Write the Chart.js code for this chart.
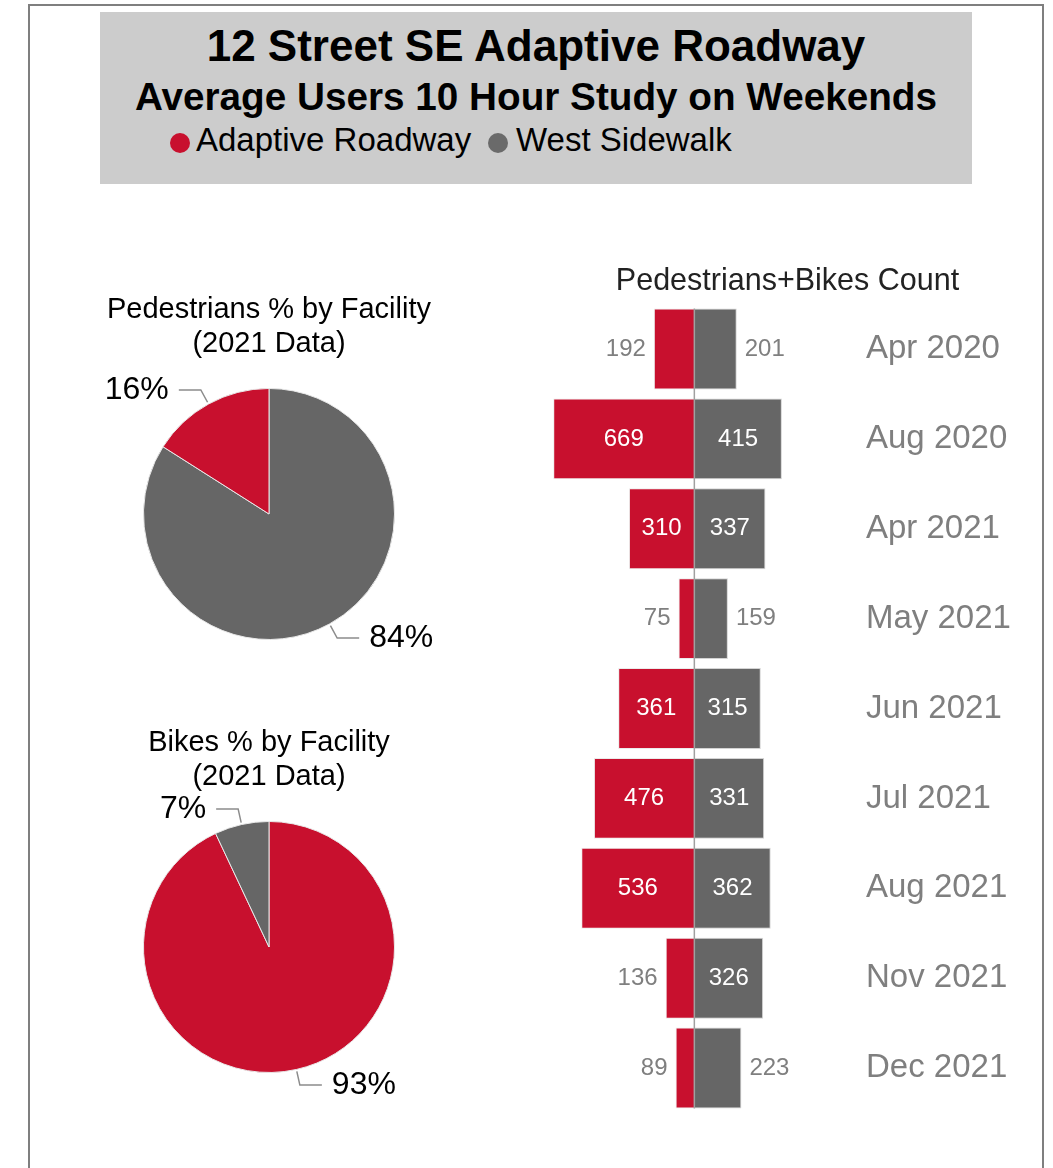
<!DOCTYPE html>
<html>
<head>
<meta charset="utf-8">
<title>12 Street SE Adaptive Roadway</title>
<script src="https://cdn.jsdelivr.net/npm/chart.js@4.4.1/dist/chart.umd.min.js"></script>
<style>
  body { margin: 0; background: #fff; font-family: "Liberation Sans", Arial, sans-serif; }
  #page { position: relative; width: 1053px; height: 1168px; overflow: hidden; }
  #frame { position: absolute; left: 28px; top: 4px; width: 1016px; height: 1220px;
           border: 2px solid #7f7f7f; box-sizing: border-box; }
  #header { position: absolute; left: 100px; top: 12px; width: 872px; height: 172px; background: #cccccc; }
  .hl { position: absolute; left: 0; width: 100%; text-align: center; font-weight: bold;
        color: #000; white-space: nowrap; height: 50px; line-height: 50px; }
  #t1 { top: 9px; font-size: 44px; }
  #t2 { top: 60px; font-size: 38.7px; }
  .dot { position: absolute; top: 121px; width: 20px; height: 20px; border-radius: 50%; }
  .lt { position: absolute; top: 108px; height: 40px; line-height: 40px; font-size: 33px;
        color: #000; white-space: nowrap; }
  canvas { position: absolute; }
</style>
</head>
<body>
<div id="page">
  <div id="frame"></div>
  <div id="header">
    <div class="hl" id="t1">12 Street SE Adaptive Roadway</div>
    <div class="hl" id="t2">Average Users 10 Hour Study on Weekends</div>
    <div class="dot" style="left:70px;background:#c8102e"></div>
    <div class="lt" style="left:96px">Adaptive Roadway</div>
    <div class="dot" style="left:388px;background:#6a6a6a"></div>
    <div class="lt" style="left:416px">West Sidewalk</div>
  </div>
  <canvas id="pedPie" width="420" height="400" style="left:59px;top:280px"></canvas>
  <canvas id="bikePie" width="420" height="400" style="left:59px;top:713px"></canvas>
  <canvas id="countBar" width="482" height="858" style="left:540px;top:255px"></canvas>
</div>
<script>
const FONT = '"Liberation Sans", Arial, sans-serif';
const red = '#c8102e';
const gray = '#666666';

// values
const facilities = ['Adaptive Roadway', 'West Sidewalk'];
const pedestrianShare = [16, 84];
const bikeShare = [93, 7];

const months = ['Apr 2020', 'Aug 2020', 'Apr 2021', 'May 2021', 'Jun 2021',
                'Jul 2021', 'Aug 2021', 'Nov 2021', 'Dec 2021'];
const roadwayCounts  = [192, 669, 310, 75, 361, 476, 536, 136, 89];
const sidewalkCounts = [201, 415, 337, 159, 315, 331, 362, 326, 223];

// percentage call-outs with leader lines
const pieCallouts = {
  id: 'pieCallouts',
  afterDatasetsDraw(chart) {
    const ctx = chart.ctx;
    const meta = chart.getDatasetMeta(0);
    const values = chart.data.datasets[0].data;
    ctx.save();
    ctx.font = '32px ' + FONT;
    ctx.fillStyle = '#000';
    ctx.strokeStyle = '#8c8c8c';
    ctx.lineWidth = 1.5;
    ctx.textBaseline = 'middle';
    meta.data.forEach((arc, i) => {
      const mid = (arc.startAngle + arc.endAngle) / 2;
      const dx = Math.cos(mid), dy = Math.sin(mid);
      const r = arc.outerRadius;
      const side = dx >= 0 ? 1 : -1;
      const x0 = arc.x + dx * (r + 2), y0 = arc.y + dy * (r + 2);
      const x1 = arc.x + dx * (r + 16), y1 = arc.y + dy * (r + 16);
      const x2 = x1 + side * 22;
      ctx.beginPath();
      ctx.moveTo(x0, y0);
      ctx.lineTo(x1, y1);
      ctx.lineTo(x2, y1);
      ctx.stroke();
      ctx.textAlign = side > 0 ? 'left' : 'right';
      ctx.fillText(values[i] + '%', x2 + side * 10, y1);
    });
    ctx.restore();
  }
};

function pieChart(id, labels, values, colors, title) {
  return new Chart(document.getElementById(id), {
    type: 'pie',
    data: {
      labels: labels,
      datasets: [{
        data: values,
        backgroundColor: colors,
        borderColor: '#e8e8e8',
        borderWidth: 1
      }]
    },
    options: {
      responsive: false,
      animation: false,
      layout: { padding: { left: 0, right: 0, top: 0, bottom: 40 } },
      plugins: {
        legend: { display: false },
        tooltip: { enabled: false },
        title: {
          display: true,
          text: title,
          color: '#000',
          font: { family: FONT, size: 29, weight: 'normal', lineHeight: 1.16 },
          padding: { top: 13.6, bottom: 27.1 }
        }
      }
    },
    plugins: [pieCallouts]
  });
}

// pedestrians: sidewalk slice starts at 12 o'clock
pieChart('pedPie', [facilities[1], facilities[0]],
  [pedestrianShare[1], pedestrianShare[0]], [gray, red],
  ['Pedestrians % by Facility', '(2021 Data)']);

pieChart('bikePie', facilities, bikeShare, [red, gray],
  ['Bikes % by Facility', '(2021 Data)']);

// value labels: inside when they fit, otherwise at the outer end
const barValues = {
  id: 'barValues',
  afterDatasetsDraw(chart) {
    const ctx = chart.ctx;
    const sets = [roadwayCounts, sidewalkCounts];
    ctx.save();
    ctx.font = '24px ' + FONT;
    ctx.textBaseline = 'middle';
    sets.forEach((counts, di) => {
      chart.getDatasetMeta(di).data.forEach((bar, i) => {
        const text = String(counts[i]);
        const w = Math.abs(bar.x - bar.base);
        const tw = ctx.measureText(text).width;
        const dir = bar.x < bar.base ? -1 : 1;
        if (w >= tw + 20) {
          ctx.fillStyle = '#fff';
          ctx.textAlign = 'center';
          ctx.fillText(text, (bar.x + bar.base) / 2, bar.y);
        } else {
          ctx.fillStyle = '#7f7f7f';
          ctx.textAlign = dir < 0 ? 'right' : 'left';
          ctx.fillText(text, bar.x + dir * 8, bar.y);
        }
      });
    });
    ctx.restore();
  }
};

const zeroLine = {
  id: 'zeroLine',
  afterDatasetsDraw(chart) {
    const bars = chart.getDatasetMeta(0).data;
    const first = bars[0], last = bars[bars.length - 1];
    const x = chart.scales.x.getPixelForValue(0);
    const ctx = chart.ctx;
    ctx.save();
    ctx.strokeStyle = '#a0a0a0';
    ctx.lineWidth = 1.5;
    ctx.beginPath();
    ctx.moveTo(x, first.y - first.height / 2);
    ctx.lineTo(x, last.y + last.height / 2);
    ctx.stroke();
    ctx.restore();
  }
};

new Chart(document.getElementById('countBar'), {
  type: 'bar',
  data: {
    labels: months,
    datasets: [
      {
        label: facilities[0],
        data: roadwayCounts.map(v => -v),
        backgroundColor: red,
        borderColor: 'rgba(230,230,230,0.8)',
        borderWidth: 1,
        categoryPercentage: 1,
        barPercentage: 0.9
      },
      {
        label: facilities[1],
        data: sidewalkCounts,
        backgroundColor: gray,
        borderColor: 'rgba(200,200,200,0.8)',
        borderWidth: 1,
        categoryPercentage: 1,
        barPercentage: 0.9
      }
    ]
  },
  options: {
    indexAxis: 'y',
    responsive: false,
    animation: false,
    layout: { padding: { left: 13, right: 0, top: 0, bottom: 0 } },
    plugins: {
      legend: { display: false },
      tooltip: { enabled: false },
      title: {
        display: true,
        text: 'Pedestrians+Bikes Count',
        color: '#222',
        font: { family: FONT, size: 30.5, weight: 'normal', lineHeight: 1.2 },
        padding: { top: 8.3, bottom: 4.2 }
      }
    },
    scales: {
      x: { stacked: true, min: -670, max: 790, display: false },
      y: {
        stacked: true,
        position: 'right',
        grid: { display: false, drawTicks: false },
        border: { display: false },
        ticks: { color: '#7f7f7f', padding: 5, font: { family: FONT, size: 33 } },
        afterFit(axis) {
          axis.width = 161;
          axis.paddingTop = 0;
          axis.paddingBottom = 0;
        }
      }
    }
  },
  plugins: [barValues, zeroLine]
});
</script>
</body>
</html>
